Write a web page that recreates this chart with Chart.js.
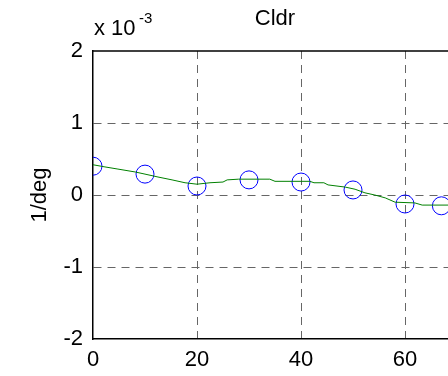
<!DOCTYPE html>
<html>
<head>
<meta charset="utf-8">
<script src="https://cdn.jsdelivr.net/npm/chart.js@4"></script>
<style>
  html, body { margin: 0; padding: 0; background: #fff; overflow: hidden; }
  #wrap { width: 470px; height: 376px; }
</style>
</head>
<body>
<div id="wrap"><canvas id="cldrChart" width="470" height="376"></canvas></div>
<script>
// values are in units of 1e-3 (1/deg)
const curveX = [0, 2.3, 4.8, 8.1, 10, 12.5, 15.2, 17.7, 20, 22.5, 25, 25.8, 28, 34, 35, 41.7, 42.5, 44.4, 45.2, 48.5, 50.4, 52.3, 54.2, 56.2, 58.1, 61.9, 63.3, 70];
const curveY = [0.42, 0.39, 0.36, 0.32, 0.29, 0.25, 0.21, 0.17, 0.15, 0.17, 0.18, 0.21, 0.22, 0.22, 0.19, 0.19, 0.17, 0.17, 0.14, 0.11, 0.08, 0.03, 0.0, -0.04, -0.10, -0.11, -0.14, -0.14];
const markX = [0, 10, 20, 30, 40, 50, 60, 67];
const markY = [0.40, 0.29, 0.125, 0.21, 0.18, 0.07, -0.125, -0.15];
const xTicks = [0, 20, 40, 60];
const yTicks = [-2, -1, 0, 1, 2];

const FONT = "'Liberation Sans', Arial, sans-serif";

const frame = {
  id: "frame",
  afterDraw(chart) {
    const { ctx, chartArea: a } = chart;
    ctx.save();
    // top axis line
    ctx.strokeStyle = "#000";
    ctx.lineWidth = 1.5;
    ctx.beginPath();
    ctx.moveTo(a.left, a.top);
    ctx.lineTo(a.right, a.top);
    ctx.stroke();
    // title
    ctx.fillStyle = "#000";
    ctx.font = "22px " + FONT;
    ctx.textAlign = "center";
    ctx.textBaseline = "alphabetic";
    ctx.fillText("Cldr", (a.left + a.right) / 2, 25);
    // exponent label
    ctx.textAlign = "left";
    ctx.fillText("x 10", 94, 35);
    ctx.font = "15px " + FONT;
    ctx.fillText("-3", 139, 23);
    ctx.restore();
  }
};

const hideEdges = (min, max) => (c) =>
  (c.tick && (c.tick.value === min || c.tick.value === max)) ? "rgba(0,0,0,0)" : "#666";

new Chart(document.getElementById("cldrChart"), {
  type: "scatter",
  data: {
    datasets: [{
      type: "line",
      data: curveX.map((x, i) => ({ x: x, y: curveY[i] })),
      borderColor: "#008000",
      borderWidth: 1,
      pointRadius: 0,
      tension: 0,
      fill: false
    }, {
      data: markX.map((x, i) => ({ x: x, y: markY[i] })),
      showLine: false,
      pointStyle: "circle",
      pointRadius: 9,
      borderColor: "#0000ff",
      borderWidth: 1,
      backgroundColor: "rgba(0,0,0,0)"
    }]
  },
  options: {
    responsive: false,
    animation: false,
    layout: { padding: { top: 51, right: 13, left: 0, bottom: 0 } },
    plugins: { legend: { display: false }, tooltip: { enabled: false } },
    scales: {
      x: {
        type: "linear",
        min: 0,
        max: 70,
        afterFit: (s) => { s.height = 37; },
        afterBuildTicks: (s) => { s.ticks = xTicks.map(v => ({ value: v })); },
        grid: { color: hideEdges(0, 70), drawTicks: false, lineWidth: 1 },
        border: { display: true, color: "#000", width: 1.5, dash: [8, 6] },
        ticks: { color: "#000", font: { family: FONT, size: 22 }, padding: 8, maxRotation: 0 }
      },
      y: {
        min: -2,
        max: 2,
        afterFit: (s) => { s.width = 93; },
        afterBuildTicks: (s) => { s.ticks = yTicks.map(v => ({ value: v })); },
        grid: { color: hideEdges(-2, 2), drawTicks: false, lineWidth: 1 },
        border: { display: true, color: "#000", width: 1.5, dash: [8, 6] },
        ticks: { color: "#000", font: { family: FONT, size: 22 }, padding: 10 },
        title: { display: true, text: "1/deg", color: "#000", font: { family: FONT, size: 22 }, padding: { top: 27, bottom: 0 } }
      }
    }
  },
  plugins: [frame]
});
</script>
</body>
</html>
